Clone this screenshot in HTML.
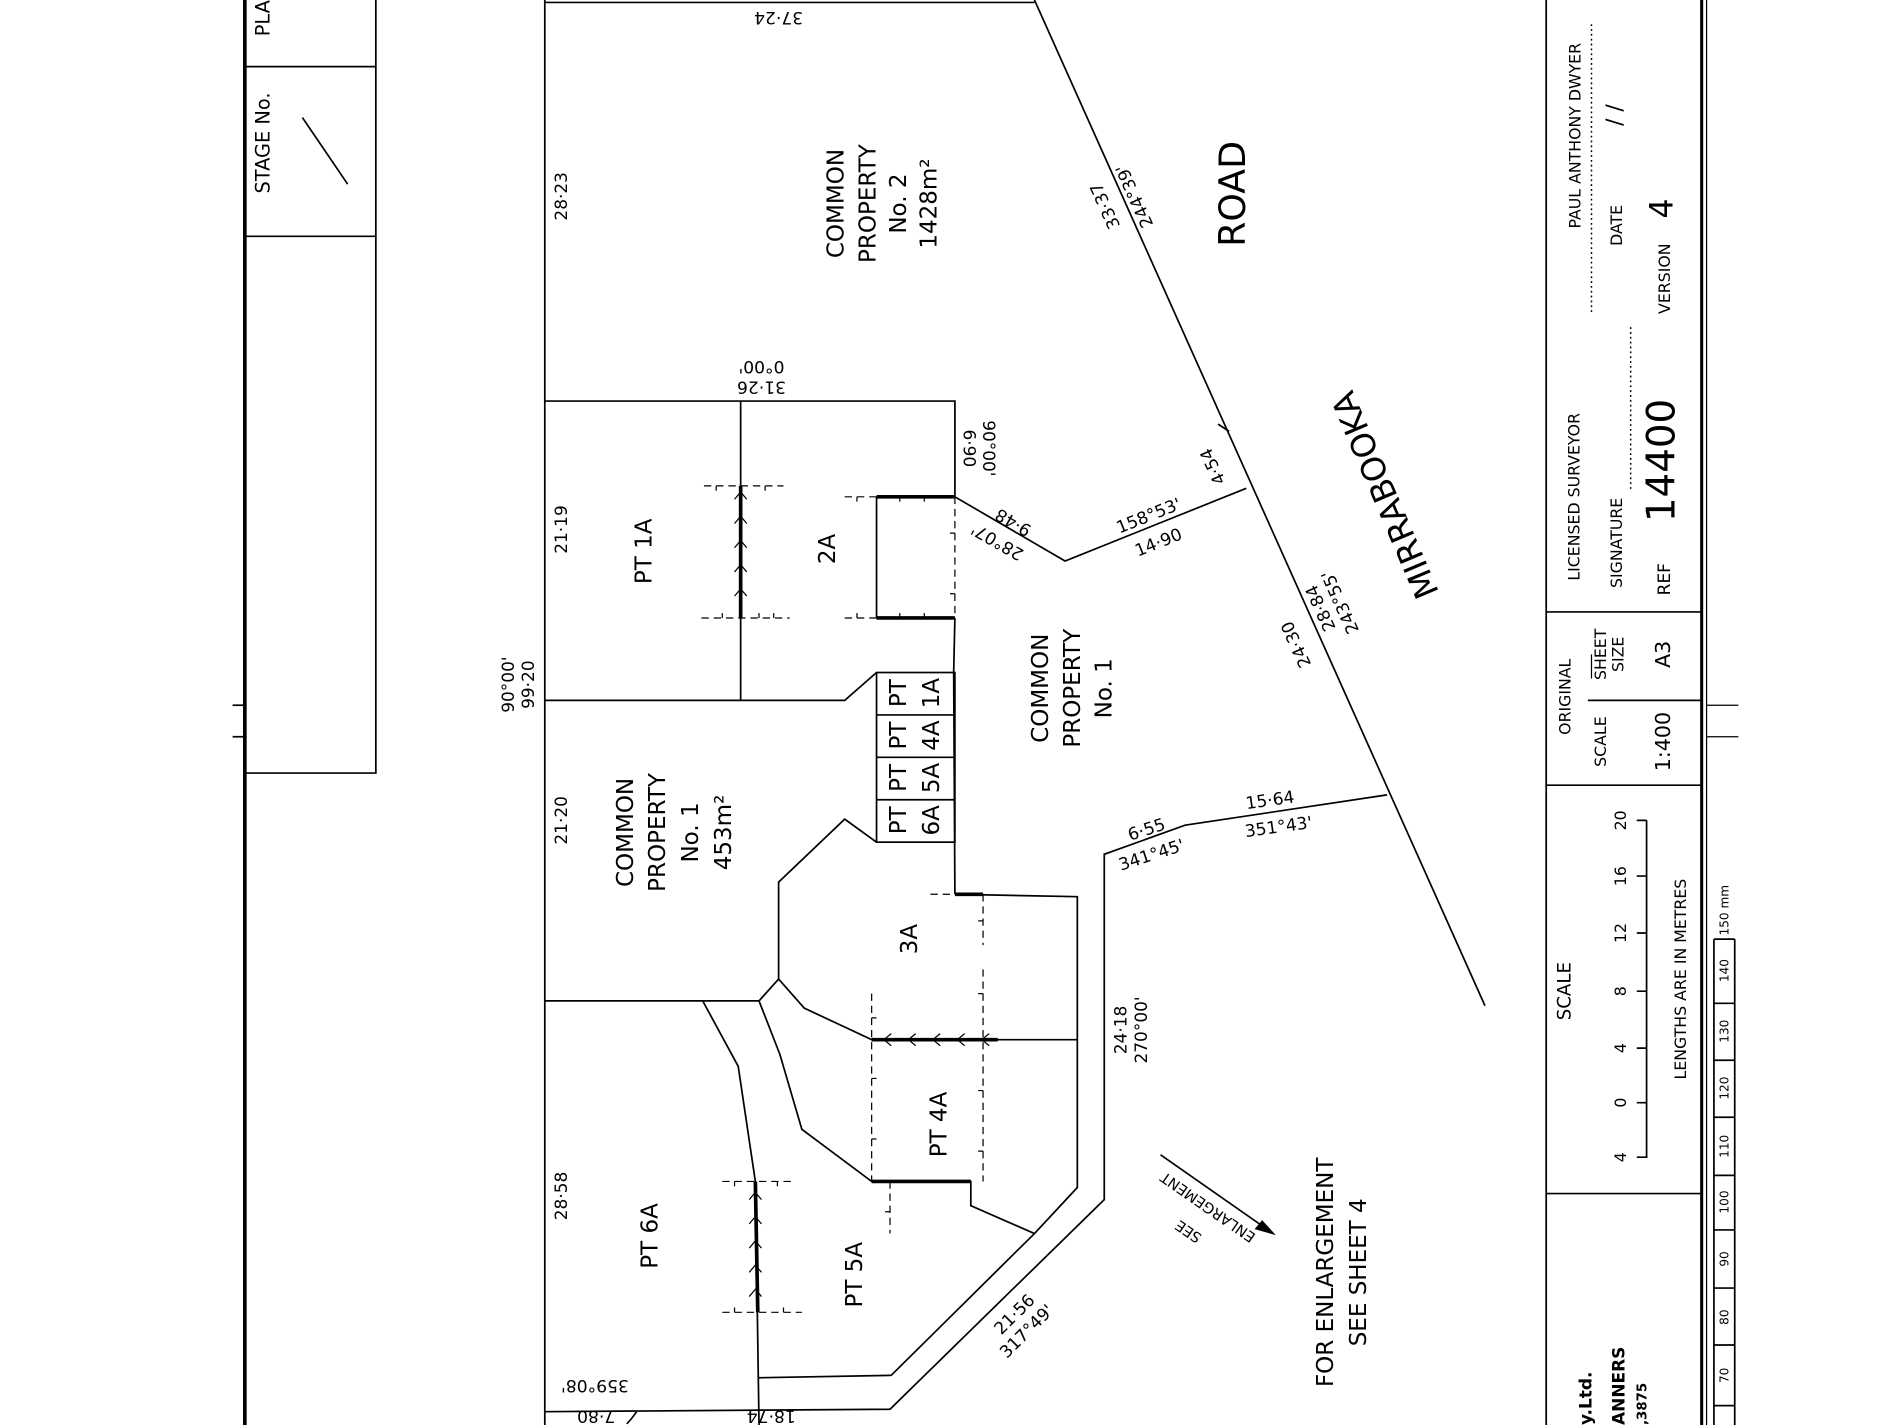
<!DOCTYPE html>
<html><head><meta charset="utf-8"><style>
html,body{margin:0;padding:0;background:#fff;}
svg{display:block;}
text{font-family:"DejaVu Sans","Liberation Sans",sans-serif;fill:#000;}
.n{font-family:"Liberation Sans",sans-serif;}
</style></head><body>
<svg width="1900" height="1425" viewBox="0 0 1552 1176" preserveAspectRatio="none" xmlns="http://www.w3.org/2000/svg">
<g fill="none" stroke="#000" stroke-width="1.4">
<line x1="200" y1="0" x2="200" y2="1176" stroke-width="3"/>
<polyline points="307,0 307,638 200,638"/>
<line x1="200" y1="55" x2="307" y2="55"/>
<line x1="200" y1="195" x2="307" y2="195"/>
<line x1="190" y1="582" x2="200" y2="582"/>
<line x1="190" y1="608" x2="200" y2="608"/>
<line x1="247" y1="97" x2="284" y2="152"/>
<line x1="445" y1="0" x2="445" y2="1176"/>
<line x1="445" y1="2" x2="845" y2="2"/>
<line x1="845" y1="0" x2="1213" y2="830"/>
<line x1="995" y1="350" x2="1004" y2="356"/>
<polyline points="445,331 780,331 780,410"/>
<line x1="605" y1="331" x2="605" y2="578"/>
<polyline points="445,578 690,578 716,555"/>
<polyline points="780,410 870,463 1018,403"/>
<line x1="716" y1="410" x2="716" y2="510"/>
<polyline points="780,510 779,555 780,738"/>
<rect x="716" y="555" width="64" height="140"/>
<line x1="716" y1="590" x2="780" y2="590"/>
<line x1="716" y1="625" x2="780" y2="625"/>
<line x1="716" y1="660" x2="780" y2="660"/>
<polyline points="716,695 690,676 636,728 636,808 620,826 445,826"/>
<polyline points="780,738 880,740 880,980 845,1018"/>
<polyline points="636,808 657,832 712,858 880,858"/>
<polyline points="620,826 637,870 655,932 712,975 793,975 793,995 845,1018"/>
<polyline points="574,826 603,880 617,975 620,1176"/>
<polyline points="845,1018 728,1135 620,1137"/>
<polyline points="1133,656 968,681 902,705 902,990 727,1163 445,1165"/>
<path d="M520,1165 q-4,6 -8,10"/>
<g stroke-width="3">
<line x1="716" y1="410" x2="780" y2="410"/>
<line x1="716" y1="510" x2="780" y2="510"/>
<line x1="605" y1="401" x2="605" y2="510"/>
<line x1="780" y1="738" x2="803" y2="738"/>
<line x1="712" y1="858" x2="815" y2="858"/>
<line x1="712" y1="975" x2="793" y2="975"/>
<line x1="617" y1="975" x2="619" y2="1083"/>
</g>
<g stroke-dasharray="6,4" stroke-width="1">
<line x1="575" y1="401" x2="640" y2="401"/>
<line x1="573" y1="510" x2="645" y2="510"/>
<line x1="690" y1="410" x2="716" y2="410"/>
<line x1="690" y1="510" x2="716" y2="510"/>
<line x1="780" y1="410" x2="780" y2="510"/>
<line x1="760" y1="738" x2="780" y2="738"/>
<line x1="803" y1="738" x2="803" y2="780"/>
<line x1="803" y1="800" x2="803" y2="975"/>
<line x1="712" y1="820" x2="712" y2="975"/>
<line x1="727" y1="975" x2="727" y2="1018"/>
<line x1="590" y1="975" x2="650" y2="975"/>
<line x1="590" y1="1083" x2="655" y2="1083"/>
</g>
<g stroke-width="1">
<path d="M600,412 l5,-6 l5,6 M600,432 l5,-6 l5,6 M600,452 l5,-6 l5,6 M600,472 l5,-6 l5,6 M600,492 l5,-6 l5,6"/>
<path d="M612,990 l5,-6 l5,6 M612,1010 l5,-6 l5,6 M612,1030 l5,-6 l5,6 M612,1050 l5,-6 l5,6 M612,1070 l5,-6 l5,6"/>
<path d="M728,853 l-6,5 l6,5 M748,853 l-6,5 l6,5 M768,853 l-6,5 l6,5 M788,853 l-6,5 l6,5 M808,853 l-6,5 l6,5"/>
<path d="M585,401 v4 M625,401 v4 M590,510 v-4 M620,510 v-4 M632,510 v-4 M700,410 v4 M735,410 v4 M755,410 v4 M700,510 v-4 M735,510 v-4 M755,510 v-4 M780,440 h-4 M780,490 h-4 M712,840 h4 M712,890 h4 M712,940 h4 M803,760 h-4 M803,820 h-4 M803,900 h-4 M803,950 h-4 M727,1000 h-4 M600,975 v4 M635,975 v4 M600,1083 v-4 M640,1083 v-4"/>
</g>
<line x1="948" y1="953" x2="1040" y2="1018"/>
<path d="M1040,1018 l-14,-4 l5,-6 z" fill="#000"/>
<line x1="1263" y1="0" x2="1263" y2="1176"/>
<line x1="1390" y1="0" x2="1390" y2="1176" stroke-width="2.5"/>
<line x1="1394" y1="0" x2="1394" y2="1176" stroke-width="1"/>
<line x1="1263" y1="505" x2="1390" y2="505"/>
<line x1="1263" y1="648" x2="1390" y2="648"/>
<line x1="1263" y1="985" x2="1390" y2="985"/>
<line x1="1297" y1="578" x2="1390" y2="578"/>
<line x1="1300" y1="540" x2="1300" y2="560" stroke-width="1"/>
<line x1="1394" y1="582" x2="1420" y2="582" stroke-width="1"/>
<line x1="1394" y1="608" x2="1420" y2="608" stroke-width="1"/>
<g stroke-dasharray="1.5,2.5" stroke-width="1.2">
<line x1="1300" y1="20" x2="1300" y2="260"/>
<line x1="1332" y1="270" x2="1332" y2="405"/>
</g>
<polyline points="1345,677 1345,955 1337,955"/>
<path d="M1337,677 h8 M1337,723 h8 M1337,770 h8 M1337,818 h8 M1337,865 h8 M1337,910 h8"/>
<line x1="1400" y1="775" x2="1400" y2="1176"/>
<line x1="1417" y1="775" x2="1417" y2="1176"/>
<path d="M1400,775 h17 M1400,828 h17 M1400,875 h17 M1400,922 h17 M1400,970 h17 M1400,1015 h17 M1400,1063 h17 M1400,1110 h17 M1400,1160 h17"/>
</g>

<g font-size="14">
<text transform="translate(220,15) rotate(-90)" text-anchor="middle" font-size="16">PLA</text>
<text transform="translate(220,118) rotate(-90)" text-anchor="middle" font-size="16">STAGE  No.</text>
<text transform="translate(636,10) rotate(180)" text-anchor="middle">37·24</text>
<text transform="translate(463,162) rotate(-90)" text-anchor="middle">28·23</text>
<g font-size="19" text-anchor="middle">
<text transform="translate(689,168) rotate(-90)">COMMON</text>
<text transform="translate(715,168) rotate(-90)">PROPERTY</text>
<text transform="translate(740,168) rotate(-90)">No.  2</text>
<text transform="translate(765,168) rotate(-90)">1428m²</text>
</g>
<text transform="translate(907,168) rotate(-114)" text-anchor="middle">33·37</text>
<text transform="translate(931,160) rotate(-114)" text-anchor="middle">244°39'</text>
<text transform="translate(1017,160) rotate(-90)" text-anchor="middle" font-size="30">ROAD</text>
<text transform="translate(1140,405) rotate(-113)" text-anchor="middle" font-size="27">MIRRABOOKA</text>
<text transform="translate(622,315) rotate(180)" text-anchor="middle">31·26</text>
<text transform="translate(622,298) rotate(180)" text-anchor="middle">0°00'</text>
<text transform="translate(463,437) rotate(-90)" text-anchor="middle">21·19</text>
<text transform="translate(532,455) rotate(-90)" text-anchor="middle" font-size="19">PT  1A</text>
<text transform="translate(682,453) rotate(-90)" text-anchor="middle" font-size="19">2A</text>
<text transform="translate(787,370) rotate(90)" text-anchor="middle">6·90</text>
<text transform="translate(803,370) rotate(90)" text-anchor="middle">90°00'</text>
<text transform="translate(830,427) rotate(210)" text-anchor="middle">9·48</text>
<text transform="translate(817,443) rotate(210)" text-anchor="middle">28°07'</text>
<text transform="translate(940,430) rotate(-22)" text-anchor="middle">158°53'</text>
<text transform="translate(948,452) rotate(-22)" text-anchor="middle">14·90</text>
<text transform="translate(995,383) rotate(-114)" text-anchor="middle">4·54</text>
<text transform="translate(1063,530) rotate(-114)" text-anchor="middle">24·30</text>
<text transform="translate(1083,500) rotate(-114)" text-anchor="middle">28·84</text>
<text transform="translate(1099,495) rotate(-114)" text-anchor="middle">243°55'</text>
<text transform="translate(420,565) rotate(-90)" text-anchor="middle">90°00'</text>
<text transform="translate(436,565) rotate(-90)" text-anchor="middle">99·20</text>
<g font-size="19" text-anchor="middle">
<text transform="translate(856,568) rotate(-90)">COMMON</text>
<text transform="translate(882,568) rotate(-90)">PROPERTY</text>
<text transform="translate(908,568) rotate(-90)">No.  1</text>
<text transform="translate(517,687) rotate(-90)">COMMON</text>
<text transform="translate(543,687) rotate(-90)">PROPERTY</text>
<text transform="translate(570,687) rotate(-90)">No.  1</text>
<text transform="translate(597,687) rotate(-90)">453m²</text>
<text transform="translate(740,572) rotate(-90)">PT</text>
<text transform="translate(767,572) rotate(-90)">1A</text>
<text transform="translate(740,607) rotate(-90)">PT</text>
<text transform="translate(767,607) rotate(-90)">4A</text>
<text transform="translate(740,642) rotate(-90)">PT</text>
<text transform="translate(767,642) rotate(-90)">5A</text>
<text transform="translate(740,677) rotate(-90)">PT</text>
<text transform="translate(767,677) rotate(-90)">6A</text>
</g>
<text transform="translate(463,677) rotate(-90)" text-anchor="middle">21·20</text>
<text transform="translate(938,689) rotate(-18)" text-anchor="middle">6·55</text>
<text transform="translate(942,710) rotate(-18)" text-anchor="middle">341°45'</text>
<text transform="translate(1038,665) rotate(-8)" text-anchor="middle">15·64</text>
<text transform="translate(1045,687) rotate(-8)" text-anchor="middle">351°43'</text>
<text transform="translate(749,775) rotate(-90)" text-anchor="middle" font-size="19">3A</text>
<text transform="translate(773,928) rotate(-90)" text-anchor="middle" font-size="19">PT  4A</text>
<text transform="translate(920,850) rotate(-90)" text-anchor="middle">24·18</text>
<text transform="translate(937,850) rotate(-90)" text-anchor="middle">270°00'</text>
<text transform="translate(463,987) rotate(-90)" text-anchor="middle">28·58</text>
<text transform="translate(537,1020) rotate(-90)" text-anchor="middle" font-size="19">PT  6A</text>
<text transform="translate(704,1052) rotate(-90)" text-anchor="middle" font-size="19">PT  5A</text>
<text transform="translate(832,1088) rotate(-45)" text-anchor="middle">21·56</text>
<text transform="translate(842,1102) rotate(-45)" text-anchor="middle">317°49'</text>
<text transform="translate(486,1139) rotate(180)" text-anchor="middle">359°08'</text>
<text transform="translate(487,1164) rotate(180)" text-anchor="middle">7·80</text>
<text transform="translate(630,1164) rotate(180)" text-anchor="middle">18·74</text>
<text transform="translate(989,993) rotate(215)" text-anchor="middle" font-size="12">ENLARGEMENT</text>
<text transform="translate(973,1013) rotate(215)" text-anchor="middle" font-size="12">SEE</text>
<text transform="translate(1089,1050) rotate(-90)" text-anchor="middle" font-size="19">FOR  ENLARGEMENT</text>
<text transform="translate(1116,1050) rotate(-90)" text-anchor="middle" font-size="19">SEE  SHEET  4</text>
</g>

<g class="n" font-size="13" text-anchor="middle" font-family="Liberation Sans Narrow, Liberation Sans, sans-serif">
<text transform="translate(1290,410) rotate(-90)">LICENSED  SURVEYOR</text>
<text transform="translate(1325,448) rotate(-90)">SIGNATURE</text>
<text transform="translate(1364,478) rotate(-90)" font-size="14">REF</text>
<text transform="translate(1368,380) rotate(-90)" font-size="32">14400</text>
<text transform="translate(1291,112) rotate(-90)">PAUL  ANTHONY  DWYER</text>
<text transform="translate(1325,186) rotate(-90)">DATE</text>
<text transform="translate(1325,95) rotate(-90)" font-size="18">/    /</text>
<text transform="translate(1364,230) rotate(-90)">VERSION</text>
<text transform="translate(1366,172) rotate(-90)" font-size="26">4</text>
<text transform="translate(1283,575) rotate(-90)">ORIGINAL</text>
<text transform="translate(1312,612) rotate(-90)">SCALE</text>
<text transform="translate(1312,540) rotate(-90)">SHEET</text>
<text transform="translate(1326,540) rotate(-90)">SIZE</text>
<text transform="translate(1364,612) rotate(-90)" font-size="17">1:400</text>
<text transform="translate(1364,540) rotate(-90)" font-size="17">A3</text>
<text transform="translate(1283,818) rotate(-90)" font-size="15">SCALE</text>
<text transform="translate(1328,955) rotate(-90)">4</text>
<text transform="translate(1328,910) rotate(-90)">0</text>
<text transform="translate(1328,865) rotate(-90)">4</text>
<text transform="translate(1328,818) rotate(-90)">8</text>
<text transform="translate(1328,770) rotate(-90)">12</text>
<text transform="translate(1328,723) rotate(-90)">16</text>
<text transform="translate(1328,677) rotate(-90)">20</text>
<text transform="translate(1377,808) rotate(-90)">LENGTHS  ARE  IN  METRES</text>
<g font-size="10">
<text transform="translate(1412,772) rotate(-90)" text-anchor="start">150 mm</text>
<text transform="translate(1412,801) rotate(-90)">140</text>
<text transform="translate(1412,851) rotate(-90)">130</text>
<text transform="translate(1412,898) rotate(-90)">120</text>
<text transform="translate(1412,946) rotate(-90)">110</text>
<text transform="translate(1412,992) rotate(-90)">100</text>
<text transform="translate(1412,1039) rotate(-90)">90</text>
<text transform="translate(1412,1087) rotate(-90)">80</text>
<text transform="translate(1412,1135) rotate(-90)">70</text>
</g>
<g font-weight="bold" text-anchor="start">
<text transform="translate(1300,1176) rotate(-90)" font-size="14">y.Ltd.</text>
<text transform="translate(1327,1176) rotate(-90)" font-size="14">ANNERS</text>
<text transform="translate(1345,1176) rotate(-90)" font-size="11">,3875</text>
</g>
</g>
</svg>
</body></html>
